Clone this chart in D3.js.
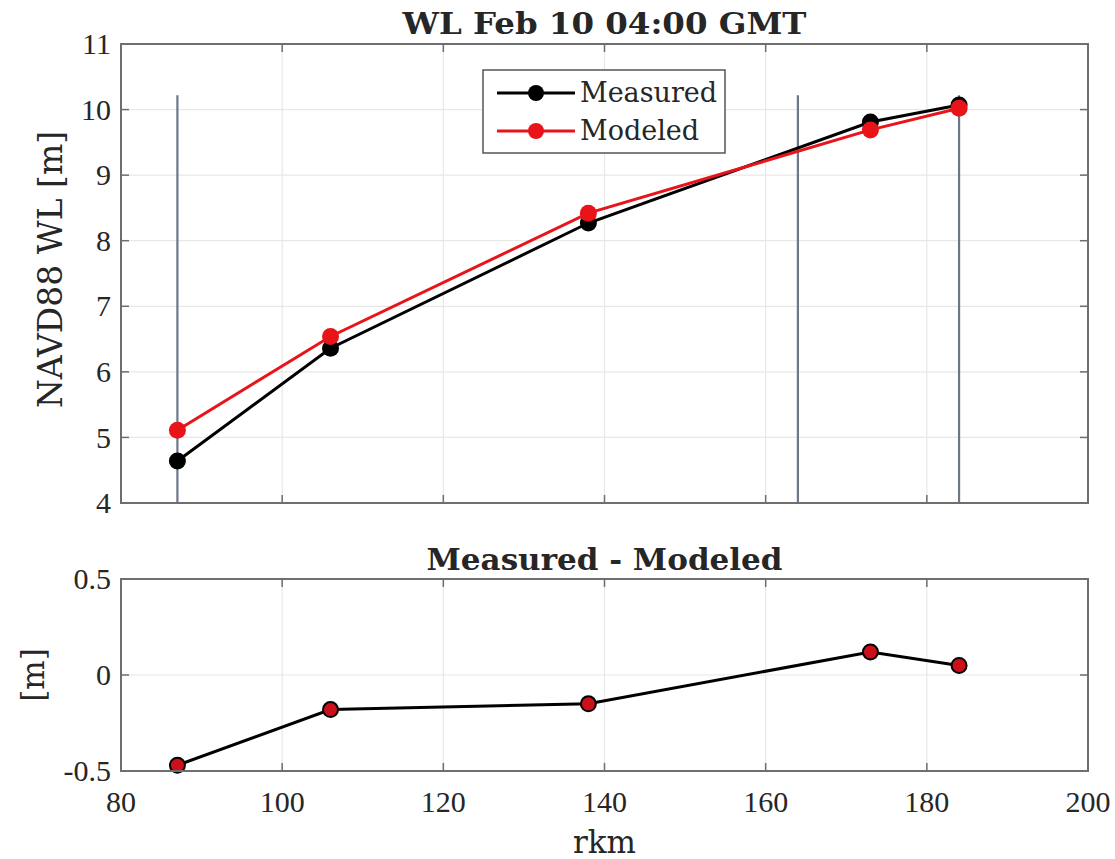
<!DOCTYPE html>
<html>
<head>
<meta charset="utf-8">
<script src="https://cdn.jsdelivr.net/npm/d3@7"></script>
<style>
  html, body { margin: 0; padding: 0; background: #fff; }
  svg { display: block; }
  text { font-family: "DejaVu Serif", "Liberation Serif", serif; fill: #262626; }
  text.tick { font-family: "Liberation Serif", "DejaVu Serif", serif; }
</style>
</head>
<body>
<svg id="chart" width="1115" height="859"></svg>
<script>
// Station positions along the river (rkm) and water levels (m, NAVD88)
const rkm = [87, 106, 138, 173, 184];
const measured = [4.64, 6.36, 8.27, 9.81, 10.07];
const modeled = [5.11, 6.54, 8.42, 9.69, 10.02];
// Reference verticals drawn across the upper panel
const markerRkm = [87, 164, 184];
const markerTop = 10.22;

const xTicks = [80, 100, 120, 140, 160, 180, 200];
const yTicksTop = [4, 5, 6, 7, 8, 9, 10, 11];
const yTicksBottom = [-0.5, 0, 0.5];
const yTickLabelsBottom = ["-0.5", "0", "0.5"];

const diff = rkm.map((_, i) => measured[i] - modeled[i]);

const svg = d3.select("#chart");
const left = 121, right = 1088;
const top1 = 44, bottom1 = 503;
const top2 = 579, bottom2 = 771;

const x = d3.scaleLinear().domain([80, 200]).range([left, right]);
const y1 = d3.scaleLinear().domain([4, 11]).range([bottom1, top1]);
const y2 = d3.scaleLinear().domain([-0.5, 0.5]).range([bottom2, top2]);

const axisColor = "#6e6e6e";
const gridColor = "#e8e8e8";
const tickFont = 30;

function panel(y, yTicks, top, bottom) {
  const g = svg.append("g");
  g.selectAll(".gx").data(xTicks.slice(1, -1)).join("line")
    .attr("x1", d => x(d)).attr("x2", d => x(d))
    .attr("y1", top).attr("y2", bottom)
    .attr("stroke", gridColor).attr("stroke-width", 1.2);
  g.selectAll(".gy").data(yTicks.slice(1, -1)).join("line")
    .attr("y1", d => y(d)).attr("y2", d => y(d))
    .attr("x1", left).attr("x2", right)
    .attr("stroke", gridColor).attr("stroke-width", 1.2);
  return g;
}

function frame(g, y, yTicks, yLabels, top, bottom, showX) {
  const tl = 8;
  // inward ticks on all four sides
  xTicks.forEach(d => {
    g.append("line").attr("x1", x(d)).attr("x2", x(d)).attr("y1", bottom).attr("y2", bottom - tl)
      .attr("stroke", axisColor).attr("stroke-width", 1.5);
    g.append("line").attr("x1", x(d)).attr("x2", x(d)).attr("y1", top).attr("y2", top + tl)
      .attr("stroke", axisColor).attr("stroke-width", 1.5);
  });
  yTicks.forEach(d => {
    g.append("line").attr("x1", left).attr("x2", left + tl).attr("y1", y(d)).attr("y2", y(d))
      .attr("stroke", axisColor).attr("stroke-width", 1.5);
    g.append("line").attr("x1", right).attr("x2", right - tl).attr("y1", y(d)).attr("y2", y(d))
      .attr("stroke", axisColor).attr("stroke-width", 1.5);
  });
  g.append("rect").attr("x", left).attr("y", top).attr("width", right - left).attr("height", bottom - top)
    .attr("fill", "none").attr("stroke", axisColor).attr("stroke-width", 2);
  g.selectAll(".yl").data(yTicks).join("text").attr("class", "tick")
    .attr("x", left - 10).attr("y", d => y(d)).attr("dy", "0.34em")
    .attr("text-anchor", "end").attr("font-size", tickFont)
    .text((d, i) => yLabels[i]);
  if (showX) {
    g.selectAll(".xl").data(xTicks).join("text").attr("class", "tick")
      .attr("x", d => x(d)).attr("y", bottom + 41)
      .attr("text-anchor", "middle").attr("font-size", tickFont)
      .text(d => d);
  }
}

// ---- upper panel: water levels ----
const g1 = panel(y1, yTicksTop, top1, bottom1);

g1.selectAll(".vline").data(markerRkm).join("line")
  .attr("x1", d => x(d)).attr("x2", d => x(d))
  .attr("y1", y1(4)).attr("y2", y1(markerTop))
  .attr("stroke", "#6a7888").attr("stroke-width", 2.2);

const line1 = d3.line().x((d, i) => x(rkm[i])).y(d => y1(d));
g1.append("path").datum(measured).attr("d", line1)
  .attr("fill", "none").attr("stroke", "#000").attr("stroke-width", 3);
g1.selectAll(".mm").data(measured).join("circle")
  .attr("cx", (d, i) => x(rkm[i])).attr("cy", d => y1(d)).attr("r", 8.5).attr("fill", "#000");
g1.append("path").datum(modeled).attr("d", line1)
  .attr("fill", "none").attr("stroke", "#e8141a").attr("stroke-width", 3);
g1.selectAll(".md").data(modeled).join("circle")
  .attr("cx", (d, i) => x(rkm[i])).attr("cy", d => y1(d)).attr("r", 8.5).attr("fill", "#e8141a");

frame(g1, y1, yTicksTop, yTicksTop.map(String), top1, bottom1, false);

svg.append("text").attr("x", (left + right) / 2).attr("y", 34)
  .attr("text-anchor", "middle").attr("font-size", 30).attr("font-weight", "bold")
  .attr("textLength", 404).attr("lengthAdjust", "spacingAndGlyphs")
  .attr("fill", "#111").text("WL Feb 10 04:00 GMT");
svg.append("text")
  .attr("transform", `translate(62,${(top1 + bottom1) / 2 - 4}) rotate(-90)`)
  .attr("text-anchor", "middle").attr("font-size", 33)
  .text("NAVD88 WL [m]");

// legend
const lg = svg.append("g");
lg.append("rect").attr("x", 483).attr("y", 70).attr("width", 242).attr("height", 83)
  .attr("fill", "#fff").attr("stroke", "#555").attr("stroke-width", 1.5);
[["Measured", "#000", 93], ["Modeled", "#e8141a", 131]].forEach(([name, col, ly]) => {
  lg.append("line").attr("x1", 497).attr("x2", 575).attr("y1", ly).attr("y2", ly)
    .attr("stroke", col).attr("stroke-width", 3);
  lg.append("circle").attr("cx", 536).attr("cy", ly).attr("r", 8).attr("fill", col);
  lg.append("text").attr("x", 580).attr("y", ly).attr("dy", "0.35em")
    .attr("font-size", 27).text(name);
});

// ---- lower panel: difference ----
const g2 = panel(y2, yTicksBottom, top2, bottom2);
const line2 = d3.line().x((d, i) => x(rkm[i])).y(d => y2(d));
g2.append("path").datum(diff).attr("d", line2)
  .attr("fill", "none").attr("stroke", "#000").attr("stroke-width", 3);
g2.selectAll(".df").data(diff).join("circle")
  .attr("cx", (d, i) => x(rkm[i])).attr("cy", d => y2(d)).attr("r", 7.5)
  .attr("fill", "#cc101a").attr("stroke", "#000").attr("stroke-width", 2);
frame(g2, y2, yTicksBottom, yTickLabelsBottom, top2, bottom2, true);

svg.append("text").attr("x", (left + right) / 2).attr("y", 570)
  .attr("text-anchor", "middle").attr("font-size", 30).attr("font-weight", "bold")
  .attr("textLength", 356).attr("lengthAdjust", "spacingAndGlyphs")
  .attr("fill", "#111").text("Measured - Modeled");
svg.append("text")
  .attr("transform", `translate(44,${(top2 + bottom2) / 2}) rotate(-90)`)
  .attr("text-anchor", "middle").attr("font-size", 31)
  .text("[m]");
svg.append("text").attr("x", (left + right) / 2).attr("y", 853)
  .attr("text-anchor", "middle").attr("font-size", 31).text("rkm");
</script>
</body>
</html>
